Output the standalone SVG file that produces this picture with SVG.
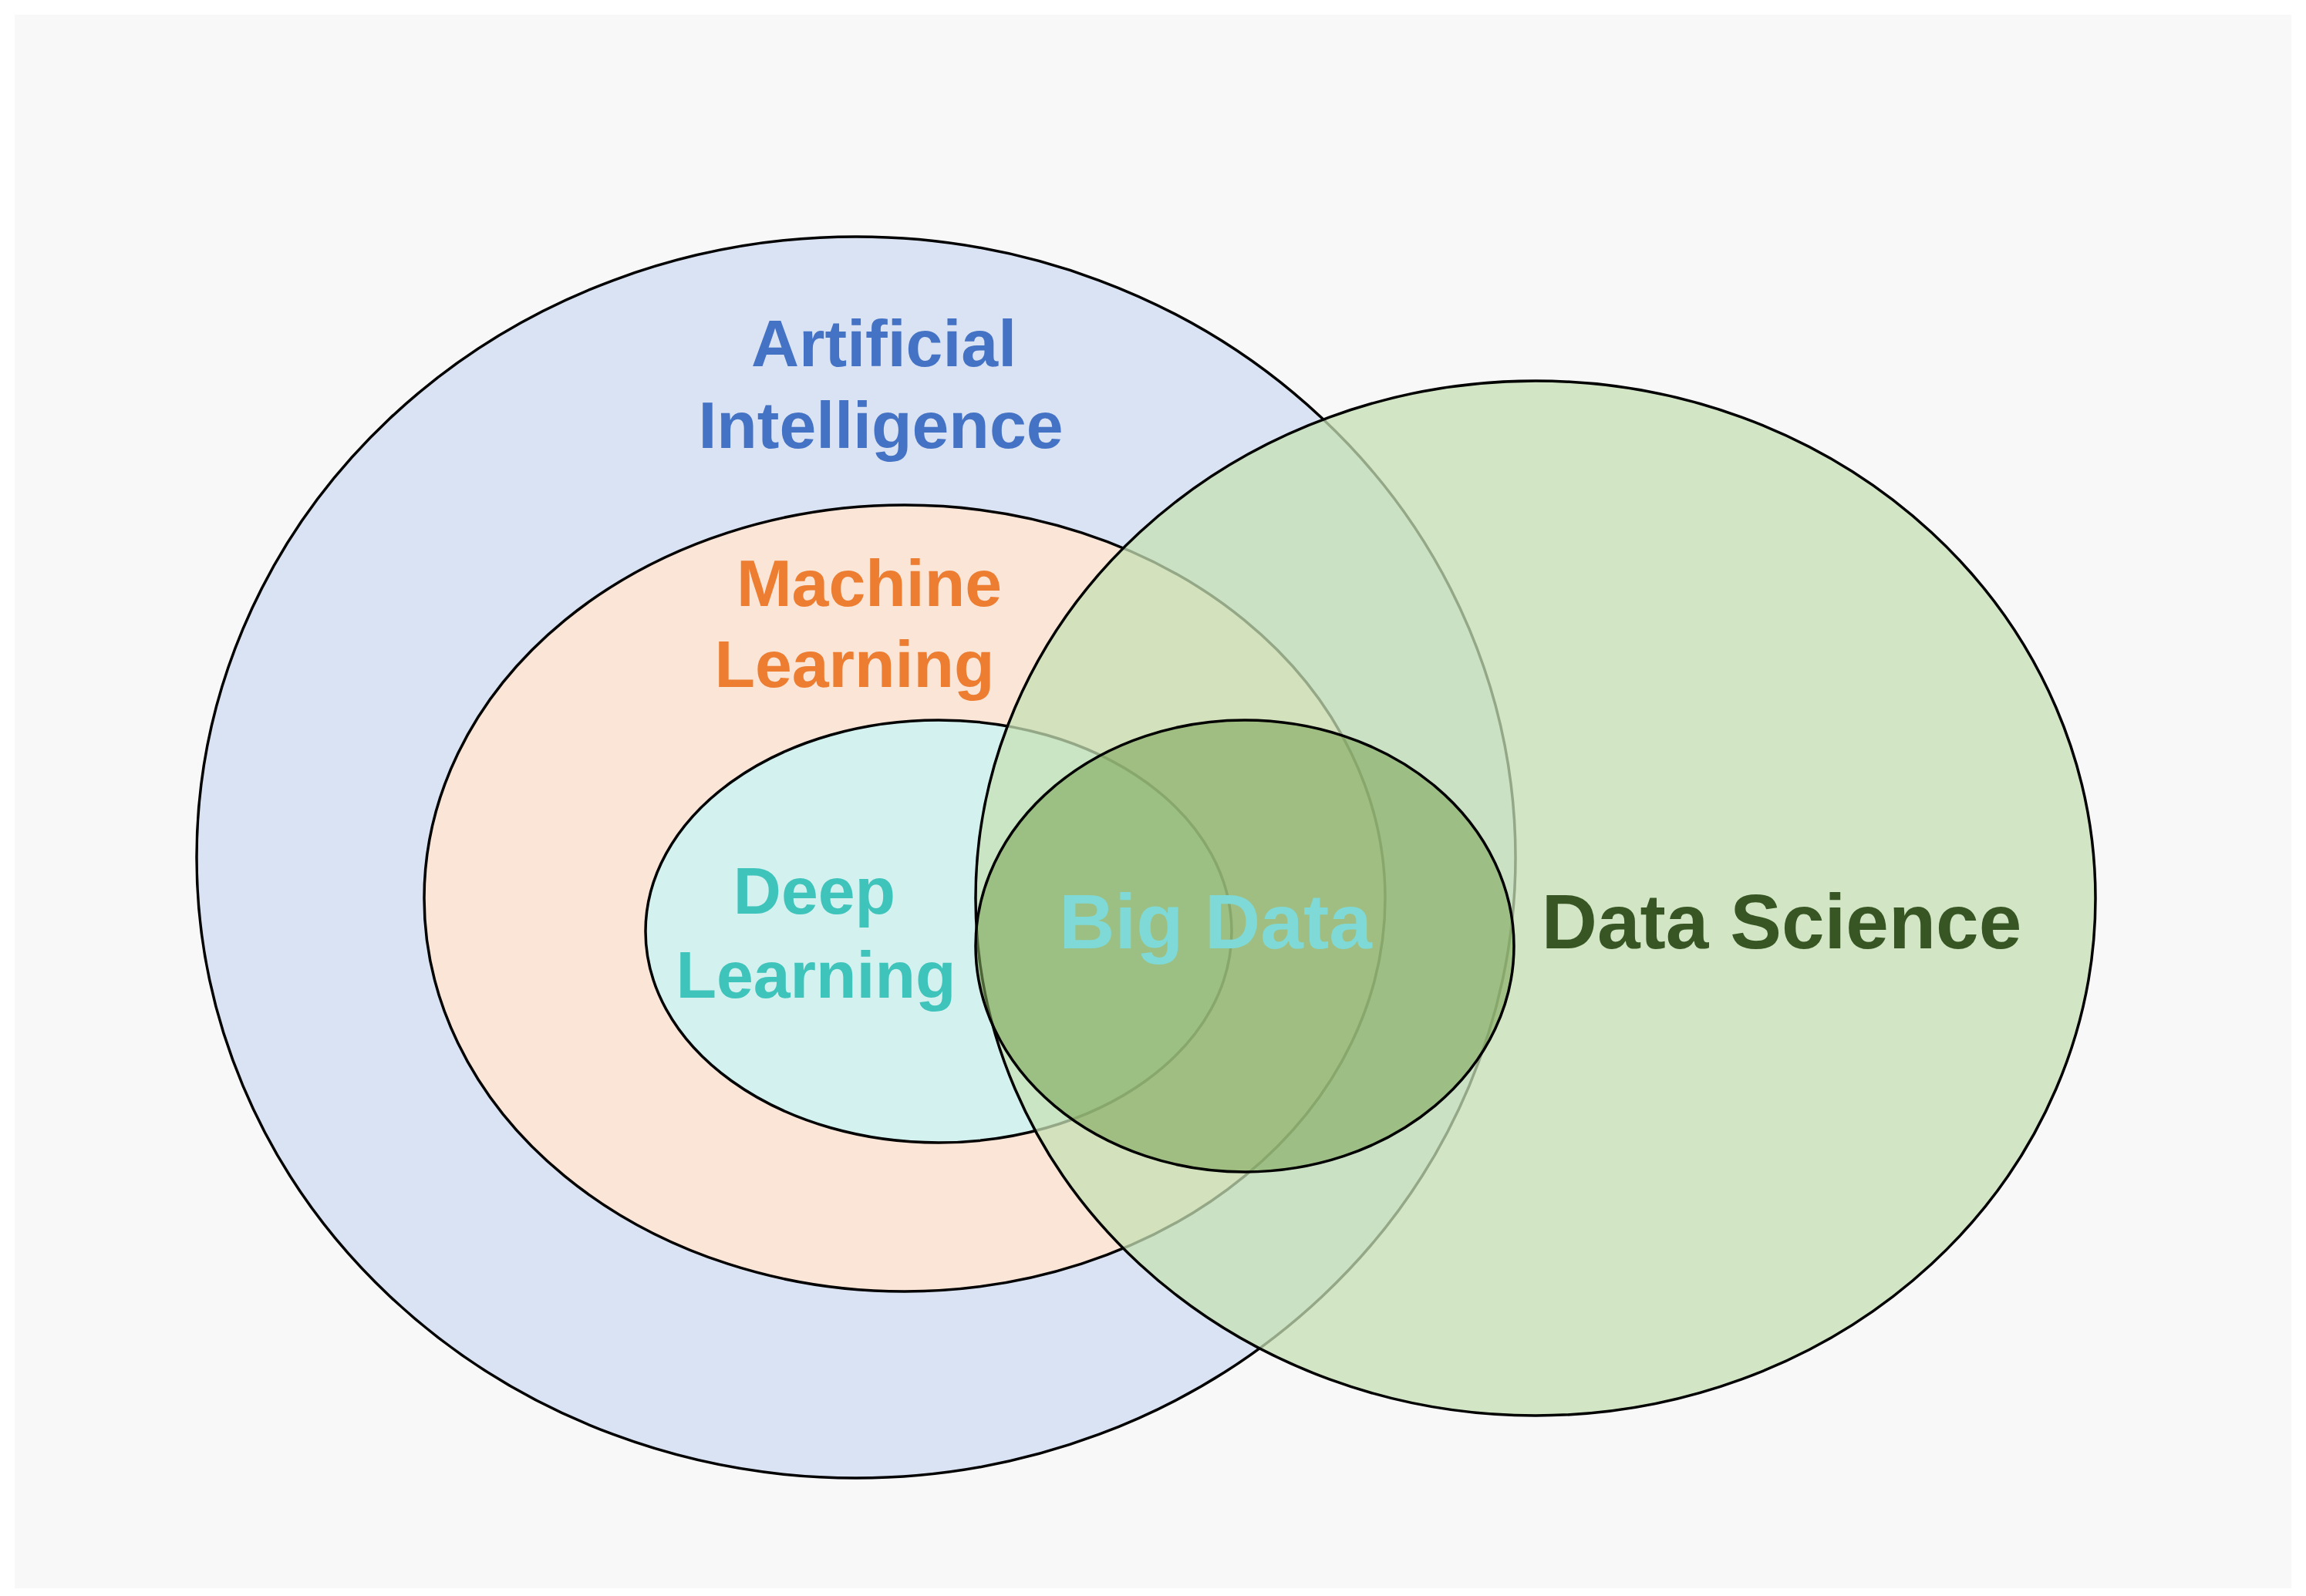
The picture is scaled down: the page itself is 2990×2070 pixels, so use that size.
<svg xmlns="http://www.w3.org/2000/svg" width="2990" height="2070" viewBox="0 0 2990 2070">
<style>
.e{stroke:#000;stroke-width:3.5}
.t{font-family:"Liberation Sans",Arial,sans-serif;font-weight:bold;text-anchor:middle}
</style>
<rect width="2990" height="2070" fill="#fff"/>
<rect x="19" y="19" width="2952" height="2041" fill="#f8f8f8"/>
<g id="ai"><ellipse class="e" cx="1110" cy="1112" rx="855" ry="805" fill="#dae3f3"/>
<text class="t" x="1146" y="475" font-size="86" fill="#4472c4">Artificial</text>
<text class="t" x="1142" y="581" font-size="86" fill="#4472c4">Intelligence</text></g>
<g id="ml"><ellipse class="e" cx="1173" cy="1165" rx="623" ry="510" fill="#fbe5d6"/>
<text class="t" x="1127" y="786" font-size="86" fill="#ed7d31">Machine</text>
<text class="t" x="1108" y="891" font-size="86" fill="#ed7d31">Learning</text></g>
<g id="dl"><ellipse class="e" cx="1217" cy="1208" rx="380" ry="274" fill="#d2f1ef"/>
<text class="t" x="1056" y="1185" font-size="86" fill="#3fc4bb">Deep</text>
<text class="t" x="1058" y="1294" font-size="86" fill="#3fc4bb">Learning</text></g>
<g id="ds"><ellipse class="e" cx="1991" cy="1165" rx="726" ry="671" fill="#c5e0b4" fill-opacity="0.75"/>
<text class="t" x="2310" y="1230" font-size="100" fill="#375623">Data Science</text></g>
<g id="bd"><ellipse class="e" cx="1614" cy="1227" rx="349" ry="293" fill="#7fa65a" fill-opacity="0.6"/>
<text class="t" x="1576" y="1230" font-size="100" fill="#7fd9d6">Big Data</text></g>
<g id="connectors"/>
</svg>
